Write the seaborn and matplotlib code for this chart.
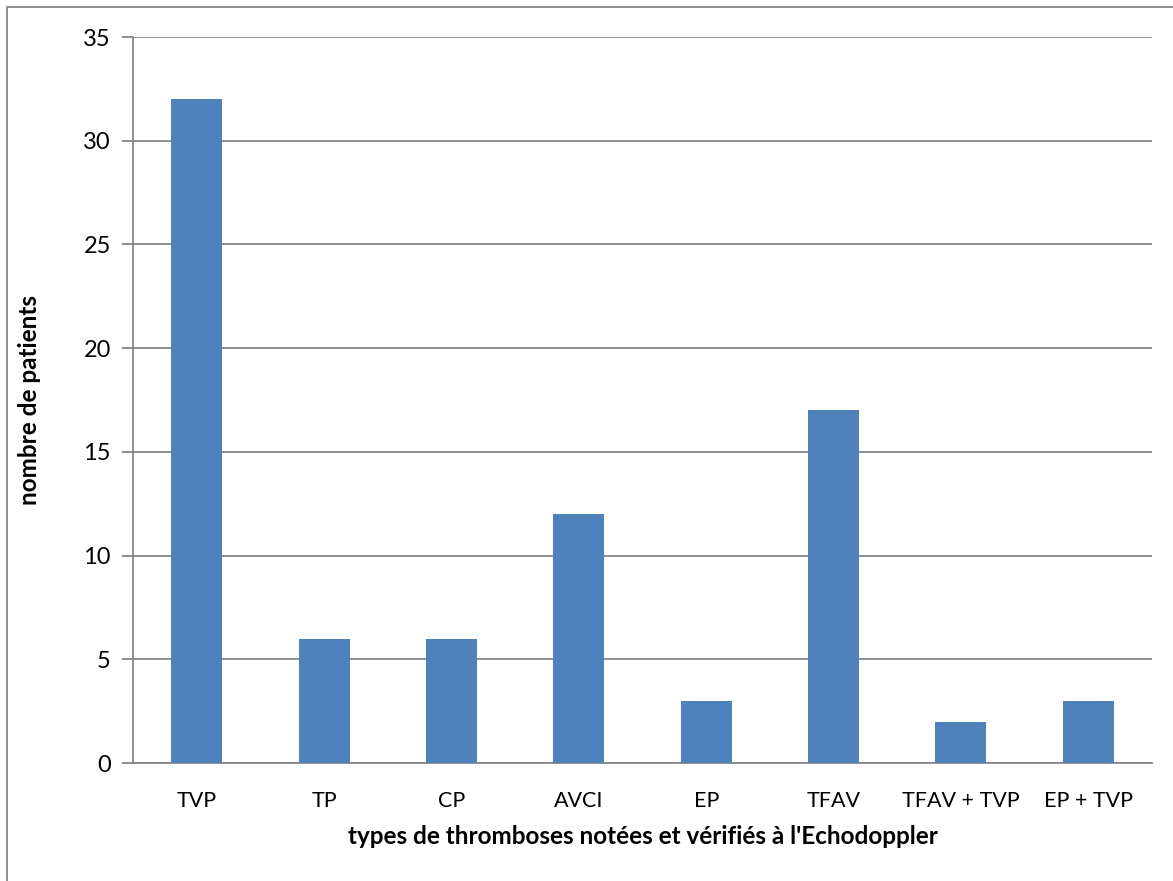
import matplotlib
matplotlib.use("Agg")
import matplotlib.pyplot as plt
import seaborn as sns
import pandas as pd
from matplotlib.patches import Rectangle

categories = ["TVP", "TP", "CP", "AVCI", "EP", "TFAV", "TFAV + TVP", "EP + TVP"]
patients = [32, 6, 6, 12, 3, 17, 2, 3]
y_ticks = [0, 5, 10, 15, 20, 25, 30, 35]

df = pd.DataFrame({"type": categories, "patients": patients})

sns.set_theme(style="white")
plt.rcParams["font.family"] = ["Lato", "DejaVu Sans"]
plt.rcParams["text.color"] = "black"
plt.rcParams["xtick.color"] = "black"
plt.rcParams["ytick.color"] = "black"
plt.rcParams["axes.labelcolor"] = "black"

fig = plt.figure(figsize=(11.73, 8.81), dpi=100)
ax = fig.add_axes([133 / 1173, 1 - 763 / 881, (1152 - 133) / 1173, (763 - 37) / 881])

grey = "#868686"
sns.barplot(data=df, x="type", y="patients", color="#4F81BD", saturation=1,
            width=0.4, linewidth=0, ax=ax, zorder=3)

ax.set_ylim(0, 35)
ax.set_xlim(-0.5, len(categories) - 0.5)
ax.set_yticks(y_ticks)
ax.set_yticklabels([str(v) for v in y_ticks], fontsize=17)
ax.yaxis.grid(True, color=grey, linewidth=1.3, zorder=0)
ax.set_axisbelow(True)

# category separator ticks on the x axis
ax.set_xticks([i - 0.5 for i in range(len(categories) + 1)], minor=True)
ax.set_xticks(range(len(categories)))
ax.set_xticklabels(categories, fontsize=15.5)
ax.tick_params(axis="x", which="major", length=0, pad=20)
ax.tick_params(axis="x", which="minor", length=7, width=1.3, color=grey)
ax.tick_params(axis="y", length=8, width=1.3, color=grey, labelcolor="black",
               pad=8, left=True)

for side in ["top", "right"]:
    ax.spines[side].set_visible(False)
for side in ["left", "bottom"]:
    ax.spines[side].set_color(grey)
    ax.spines[side].set_linewidth(1.3)

ax.set_xlabel("types de thromboses notées et vérifiés à l'Echodoppler",
              fontsize=17.5, fontweight="bold", labelpad=10)
ax.set_ylabel("nombre de patients", fontsize=17.5, fontweight="bold", labelpad=30)

# outer chart frame
fig.patches.append(Rectangle((7 / 1173, -0.01), 1.02, 1 - 7 / 881 + 0.01,
                             transform=fig.transFigure, fill=False,
                             edgecolor=grey, linewidth=1.3))

fig.savefig("out.png", dpi=100)
